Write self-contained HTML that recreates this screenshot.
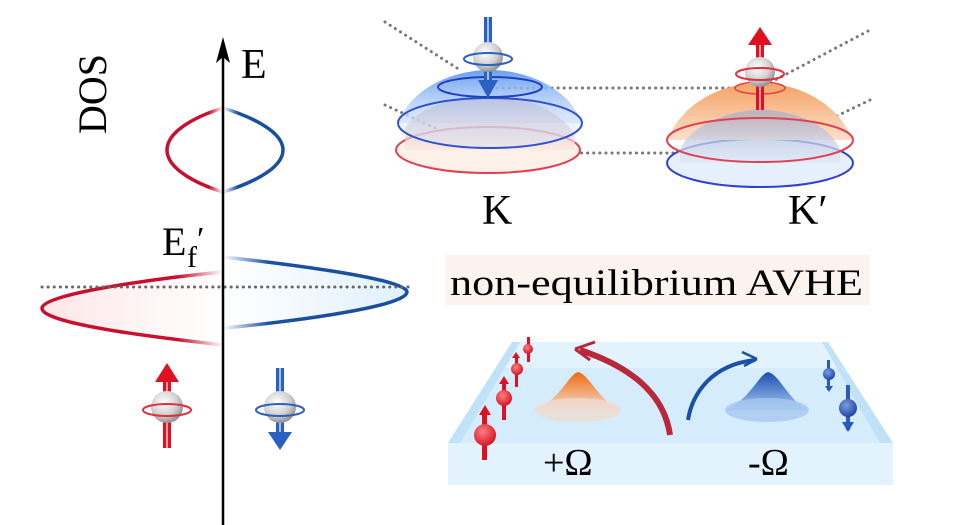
<!DOCTYPE html>
<html><head><meta charset="utf-8"><style>
html,body{margin:0;padding:0;background:#fff}
svg{display:block}
svg text{font-family:"Liberation Serif","Times New Roman",Times,serif !important;fill:#000}
</style></head><body>
<svg width="975" height="525" viewBox="0 0 975 525" xmlns="http://www.w3.org/2000/svg" font-family="Liberation Serif, Times New Roman, serif">
<defs>
<linearGradient id="rL" x1="0" x2="1"><stop offset="0" stop-color="#c8102e"/><stop offset="0.75" stop-color="#c8102e"/><stop offset="1" stop-color="#c8102e" stop-opacity="0"/></linearGradient>
<linearGradient id="bR" x1="1" x2="0"><stop offset="0" stop-color="#1a4fa0"/><stop offset="0.75" stop-color="#1a4fa0"/><stop offset="1" stop-color="#1a4fa0" stop-opacity="0"/></linearGradient>
<linearGradient id="rFill" x1="0" x2="1"><stop offset="0" stop-color="#fde6e8"/><stop offset="1" stop-color="#fff"/></linearGradient>
<linearGradient id="bFill" x1="1" x2="0"><stop offset="0" stop-color="#dff0fb"/><stop offset="1" stop-color="#fff"/></linearGradient>
<radialGradient id="ball" cx="0.4" cy="0.35" r="0.7"><stop offset="0" stop-color="#fff"/><stop offset="0.6" stop-color="#d0d0d0"/><stop offset="1" stop-color="#888"/></radialGradient>
<linearGradient id="blueDome" x1="0" y1="0" x2="0" y2="1"><stop offset="0" stop-color="#6aa0f0"/><stop offset="1" stop-color="#cfe0fa" stop-opacity="0.6"/></linearGradient>
<linearGradient id="orDome" x1="0" y1="0" x2="0" y2="1"><stop offset="0" stop-color="#f5a263"/><stop offset="1" stop-color="#fbe0cc"/></linearGradient>
<linearGradient id="inner1" x1="0" y1="0" x2="0" y2="1"><stop offset="0" stop-color="#a8a8c8"/><stop offset="1" stop-color="#fbe8dc"/></linearGradient>
<linearGradient id="inner2" x1="0" y1="0" x2="0" y2="1"><stop offset="0" stop-color="#a8acc8"/><stop offset="1" stop-color="#dde8f8"/></linearGradient>
<linearGradient id="cone1" x1="0" y1="0" x2="0" y2="1"><stop offset="0" stop-color="#f06a10"/><stop offset="1" stop-color="#f3ddd0"/></linearGradient>
<linearGradient id="cone2" x1="0" y1="0" x2="0" y2="1"><stop offset="0" stop-color="#1a4fb0"/><stop offset="1" stop-color="#a8c8f0"/></linearGradient>
<radialGradient id="rb" cx="0.4" cy="0.35" r="0.7"><stop offset="0" stop-color="#ff8080"/><stop offset="1" stop-color="#d01020"/></radialGradient>
<radialGradient id="bb" cx="0.4" cy="0.35" r="0.7"><stop offset="0" stop-color="#7aa0e0"/><stop offset="1" stop-color="#1a40a0"/></radialGradient>
</defs>

<!-- LEFT PANEL -->
<path d="M223 345 C 180 340, 40 325, 42 308 C 44 292, 180 276, 223 272 Z" fill="url(#rFill)"/>
<path d="M223 328 C 270 324, 407 308, 407 292 C 407 278, 270 262, 223 257 Z" fill="url(#bFill)"/>
<path d="M223 345 C 180 340, 40 325, 42 308 C 44 292, 180 276, 223 272" fill="none" stroke="url(#rL)" stroke-width="3.5"/>
<path d="M223 328 C 270 324, 407 308, 407 292 C 407 278, 270 262, 223 257" fill="none" stroke="url(#bR)" stroke-width="3.5"/>
<path d="M223 108 C 200 115, 167 130, 167 150 C 167 170, 200 185, 223 192" fill="none" stroke="url(#rL)" stroke-width="3.5"/>
<path d="M223 108 C 246 115, 283 130, 283 150 C 283 170, 246 185, 223 192" fill="none" stroke="url(#bR)" stroke-width="3.5"/>
<line x1="42" y1="287" x2="410" y2="287" stroke="#666" stroke-width="3" stroke-dasharray="0.1 6" stroke-linecap="round"/>
<line x1="223" y1="525" x2="223" y2="45" stroke="#000" stroke-width="2.5"/>
<path d="M223 37 L216 63 L223 57 L230 63 Z" fill="#000"/>
<text x="241" y="78" font-size="42">E</text>
<text transform="translate(106,134) rotate(-90)" font-size="40">DOS</text>
<text x="162" y="255" font-size="40">E</text><text x="187" y="267" font-size="30">f</text><text x="197" y="250" font-size="34">′</text>

<!-- left spins -->
<g>
<rect x="163" y="378" width="8" height="70" fill="#e01020"/><rect x="166" y="378" width="2" height="70" fill="#fff" opacity="0.6"/>
<path d="M167 363 L155 382 L179 382 Z" fill="#e01020"/>
<circle cx="167" cy="407" r="16" fill="url(#ball)"/>
<ellipse cx="167" cy="410" rx="24" ry="6" fill="none" stroke="#e0303a" stroke-width="2"/>
</g>
<g>
<rect x="276" y="368" width="8" height="70" fill="#2a60c0"/><rect x="279" y="368" width="2" height="70" fill="#fff" opacity="0.6"/>
<path d="M280 450 L268 432 L292 432 Z" fill="#2a60c0"/>
<circle cx="280" cy="407" r="16" fill="url(#ball)"/>
<ellipse cx="280" cy="410" rx="24" ry="6" fill="none" stroke="#2a60c0" stroke-width="2"/>
</g>

<!-- RIGHT TOP: dotted lines -->
<g stroke="#777" stroke-width="3" stroke-dasharray="0.1 6" stroke-linecap="round" fill="none">
<path d="M385 22 L460 70"/><path d="M385 105 L490 153"/>
<path d="M497 88 L760 88"/><path d="M490 153 L760 153"/>
<path d="M760 88 L870 30"/><path d="M760 153 L870 100"/>
</g>
<!-- K dome -->
<ellipse cx="488" cy="150" rx="92" ry="23" fill="#fdf0e8" stroke="#e04050" stroke-width="2"/>
<path d="M398 123 C 410 90, 450 70, 490 70 C 530 70, 570 90, 582 123 Z" fill="url(#blueDome)"/>
<path d="M405 128 C 420 105, 460 96, 490 96 C 525 96, 560 110, 575 135 L575 150 L405 150Z" fill="url(#inner1)" opacity="0.7"/>
<ellipse cx="490" cy="123" rx="92" ry="25" fill="#cfe0fa" fill-opacity="0.35" stroke="#3050d0" stroke-width="2"/>
<ellipse cx="490" cy="87" rx="52" ry="10" fill="none" stroke="#2040c0" stroke-width="2"/>
<rect x="484" y="17" width="8" height="68" fill="#2a60c0"/><rect x="487" y="17" width="2" height="68" fill="#fff" opacity="0.6"/>
<path d="M488 98 L478 80 L498 80 Z" fill="#2a60c0"/>
<circle cx="488" cy="57" r="15" fill="url(#ball)"/>
<ellipse cx="488" cy="59" rx="24" ry="6" fill="none" stroke="#2a60c0" stroke-width="2"/>
<!-- K' dome -->
<ellipse cx="760" cy="163" rx="93" ry="24" fill="#e6f0fc" stroke="#3040d0" stroke-width="2"/>
<path d="M668 140 C 680 105, 720 83, 760 83 C 800 83, 840 105, 852 140 Z" fill="url(#orDome)"/>
<path d="M680 150 C 690 125, 730 110, 760 110 C 795 110, 830 125, 840 150 L840 163 L680 163Z" fill="url(#inner2)" opacity="0.75"/>
<ellipse cx="760" cy="140" rx="93" ry="22" fill="none" stroke="#e04050" stroke-width="2"/>
<ellipse cx="760" cy="88" rx="25" ry="6" fill="none" stroke="#e04050" stroke-width="1.5"/>
<rect x="756" y="42" width="8" height="68" fill="#e01020"/><rect x="759" y="42" width="2" height="68" fill="#fff" opacity="0.6"/>
<path d="M760 27 L748 45 L772 45 Z" fill="#e01020"/>
<circle cx="760" cy="72" r="15" fill="url(#ball)"/>
<ellipse cx="760" cy="74" rx="24" ry="6" fill="none" stroke="#e0303a" stroke-width="2"/>
<text x="482" y="224" font-size="42">K</text>
<text x="788" y="224" font-size="42">K′</text>

<!-- label -->
<rect x="446" y="255" width="424" height="50" fill="#fdf3ee"/>
<text x="450" y="295" font-size="37" textLength="413" lengthAdjust="spacingAndGlyphs">non-equilibrium AVHE</text>

<!-- plate -->
<path d="M512 342 L828 342 L893 443 L448 443 Z" fill="#d4ecfb"/>
<path d="M512 342 L828 342 L840 368 L500 368 Z" fill="#e2f3fd"/>
<path d="M448 443 L512 342 L520 342 L460 443Z" fill="#bfe2f8"/>
<path d="M828 342 L893 443 L880 443 L822 342Z" fill="#bfe2f8"/>
<rect x="448" y="443" width="445" height="42" fill="#e2f3fd"/>
<!-- cones -->
<path d="M535 410 C 560 400, 568 375, 578 372 C 590 375, 598 400, 620 410 Z" fill="url(#cone1)"/>
<ellipse cx="578" cy="410" rx="43" ry="12" fill="#ecdcd0" opacity="0.8"/>
<path d="M725 410 C 750 400, 758 375, 768 372 C 780 375, 788 400, 808 410 Z" fill="url(#cone2)"/>
<ellipse cx="767" cy="410" rx="42" ry="12" fill="#a8c8f0" opacity="0.8"/>
<!-- arrows -->
<path d="M670 435 C 665 400, 640 370, 580 350" fill="none" stroke="#b8283a" stroke-width="6"/>
<path d="M575 349 L595 342 M575 349 L590 360" stroke="#b8283a" stroke-width="3" fill="none"/>
<path d="M688 420 C 692 395, 710 365, 755 360" fill="none" stroke="#1a50a8" stroke-width="4"/>
<path d="M757 359 L742 352 M757 359 L744 366" stroke="#1a50a8" stroke-width="2.5" fill="none"/>
<!-- red spins -->
<g fill="#e01020">
<rect x="482" y="410" width="5" height="50"/><path d="M485 405 L479 415 L491 415Z"/><circle cx="485" cy="435" r="11" fill="url(#rb)"/>
<rect x="502" y="380" width="4" height="40"/><path d="M504 376 L499 384 L509 384Z"/><circle cx="504" cy="398" r="8" fill="url(#rb)"/>
<rect x="515" y="355" width="3" height="32"/><path d="M516 352 L512 358 L520 358Z"/><circle cx="517" cy="369" r="6" fill="url(#rb)"/>
<rect x="527" y="337" width="3" height="25"/><circle cx="528" cy="349" r="5" fill="url(#rb)"/>
</g>
<g fill="#2a5ac0">
<rect x="827" y="360" width="3" height="30"/><circle cx="829" cy="374" r="6" fill="url(#bb)"/><path d="M829 392 L825 386 L833 386Z"/>
<rect x="846" y="385" width="4" height="45"/><circle cx="848" cy="408" r="9" fill="url(#bb)"/><path d="M848 432 L842 422 L854 422Z"/>
</g>
<text x="543" y="475" font-size="38">+Ω</text>
<text x="748" y="475" font-size="38">-Ω</text>
</svg>
</body></html>
